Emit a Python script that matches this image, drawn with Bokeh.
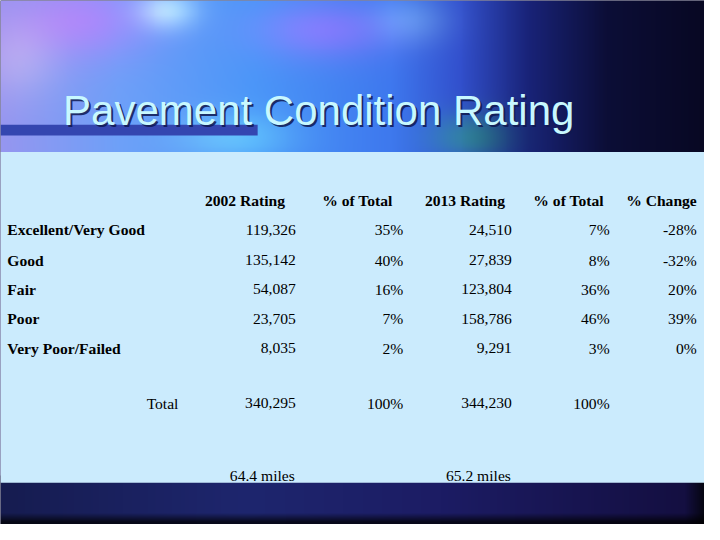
import numpy as np
from bokeh.plotting import figure
from bokeh.models import Range1d, ColumnDataSource
from bokeh.core.properties import value
from bokeh.embed import file_html
from bokeh.resources import INLINE

# ---------------- data ----------------
title = "Pavement Condition Rating"
col_headers = ["2002 Rating", "% of Total", "2013 Rating", "% of Total", "% Change"]
categories = ["Excellent/Very Good", "Good", "Fair", "Poor", "Very Poor/Failed"]
rating_2002 = [119326, 135142, 54087, 23705, 8035]
pct_2002 = [35, 40, 16, 7, 2]
rating_2013 = [24510, 27839, 123804, 158786, 9291]
pct_2013 = [7, 8, 36, 46, 3]
pct_change = [-28, -32, 20, 39, 0]
total_label = "Total"
total_2002 = 340295
total_2013 = 344230
total_pct_2002 = 100
total_pct_2013 = 100
miles = ["64.4 miles", "65.2 miles"]

# ---------------- layout (reference pixel space 720x540) ----------------
W, H = 720, 540
def Y(y_img):
    return H - y_img

p = figure(width=704, height=524, output_backend="svg", toolbar_location=None,
           x_range=Range1d(0, W), y_range=Range1d(0, H), min_border=0)
p.axis.visible = False
p.grid.visible = False
p.outline_line_color = None
p.background_fill_color = "#0a0a30"
p.border_fill_color = "#0a0a30"

# ---------------- background decoration ----------------
yy, xx = np.mgrid[0:H, 0:W].astype(float)
xs = [0, 120, 260, 400, 470, 540, 620, 720]
Rs = [150, 110, 75, 62, 50, 25, 12, 8]
Gs = [150, 160, 150, 120, 80, 35, 14, 8]
Bs = [240, 248, 248, 238, 205, 120, 55, 35]
r = np.interp(xx, xs, Rs)
g = np.interp(xx, xs, Gs)
b = np.interp(xx, xs, Bs)

def blob(cx, cy, sx, sy, dr, dg, db):
    global r, g, b
    w = np.exp(-(((xx - cx) / sx) ** 2 + ((yy - cy) / sy) ** 2))
    r = r + dr * w
    g = g + dg * w
    b = b + db * w

blob(90, 20, 70, 40, 50, -20, 5)
blob(170, 10, 30, 20, 70, 70, 10)
blob(330, 30, 70, 30, 60, -10, 10)
blob(20, 60, 40, 40, 30, 20, 0)
blob(240, 140, 60, 25, 20, 40, 5)
blob(480, 140, 40, 25, 0, 50, -40)
blob(420, 20, 40, 25, 30, 40, 10)

# bottom band
band = yy >= 490
bx = np.interp(xx, [0, 250, 450, 700, 720], [22, 30, 28, 20, 5])
by = np.interp(xx, [0, 250, 450, 700, 720], [28, 38, 28, 15, 5])
bb = np.interp(xx, [0, 250, 450, 700, 720], [80, 110, 100, 65, 15])
fade = np.clip((540 - yy) / 12.0, 0.25, 1.0)
r = np.where(band, bx * fade, r)
g = np.where(band, by * fade, g)
b = np.where(band, bb * fade, b)

rgb = np.stack([np.clip(r, 0, 255), np.clip(g, 0, 255), np.clip(b, 0, 255)], axis=-1).astype(np.uint8)
img = np.empty((H, W), dtype=np.uint32)
view = img.view(dtype=np.uint8).reshape((H, W, 4))
view[:, :, :3] = rgb[::-1]
view[:, :, 3] = 255
p.image_rgba(image=[img], x=0, y=0, dw=W, dh=H)

# title underline bar
p.quad(left=0, right=263, bottom=Y(139), top=Y(128), fill_color="#3446b0",
       line_color=None)

# light panel
p.quad(left=0, right=W, bottom=Y(497), top=Y(156), fill_color="#cbebfd",
       line_color=None)

# ---------------- title ----------------
p.text(x=[66], y=[Y(115)], text=[title], text_font=value("Liberation Sans"),
       text_font_size="42px", text_color="#101850", text_alpha=0.85,
       text_baseline="alphabetic", text_align="left")
p.text(x=[64], y=[Y(113)], text=[title], text_font=value("Liberation Sans"),
       text_font_size="42px", text_color="#c8f8ff",
       text_baseline="alphabetic", text_align="left")

# ---------------- table ----------------
FONT = value("Liberation Serif")
FS = "15.6px"
col_right = [302, 412, 523, 623, 712]
header_center = [250, 365, 475, 581, 676]
row_base = [236.5, 267.5, 297.5, 328, 358.5]

hdr = ColumnDataSource(dict(x=header_center, y=[Y(206.5)] * 5, t=col_headers))
p.text(x="x", y="y", text="t", source=hdr, text_font=FONT, text_font_size=FS,
       text_font_style="bold", text_align="center", text_baseline="alphabetic",
       text_color="black")

lab = ColumnDataSource(dict(x=[7] * len(categories), y=[Y(v) for v in row_base],
                            t=categories))
p.text(x="x", y="y", text="t", source=lab, text_font=FONT, text_font_size=FS,
       text_font_style="bold", text_align="left", text_baseline="alphabetic",
       text_color="black")

columns = [
    [f"{v:,}" for v in rating_2002],
    [f"{v}%" for v in pct_2002],
    [f"{v:,}" for v in rating_2013],
    [f"{v}%" for v in pct_2013],
    [f"{v}%" for v in pct_change],
]
cx, cy, ct = [], [], []
for ci, col in enumerate(columns):
    for ri, t in enumerate(col):
        cx.append(col_right[ci])
        cy.append(Y(row_base[ri]))
        ct.append(t)
# totals row
for ci, t in zip([0, 1, 2, 3], [f"{total_2002:,}", f"{total_pct_2002}%",
                               f"{total_2013:,}", f"{total_pct_2013}%"]):
    cx.append(col_right[ci])
    cy.append(Y(415))
    ct.append(t)
# miles
for ci, t in zip([0, 2], miles):
    cx.append(col_right[ci] - 1)
    cy.append(Y(489))
    ct.append(t)
vals = ColumnDataSource(dict(x=cx, y=cy, t=ct))
p.text(x="x", y="y", text="t", source=vals, text_font=FONT, text_font_size=FS,
       text_align="right", text_baseline="alphabetic", text_color="black")

p.text(x=[182], y=[Y(415)], text=[total_label], text_font=FONT,
       text_font_size=FS, text_align="right", text_baseline="alphabetic",
       text_color="black")

open("out.html", "w").write(file_html(p, INLINE))
